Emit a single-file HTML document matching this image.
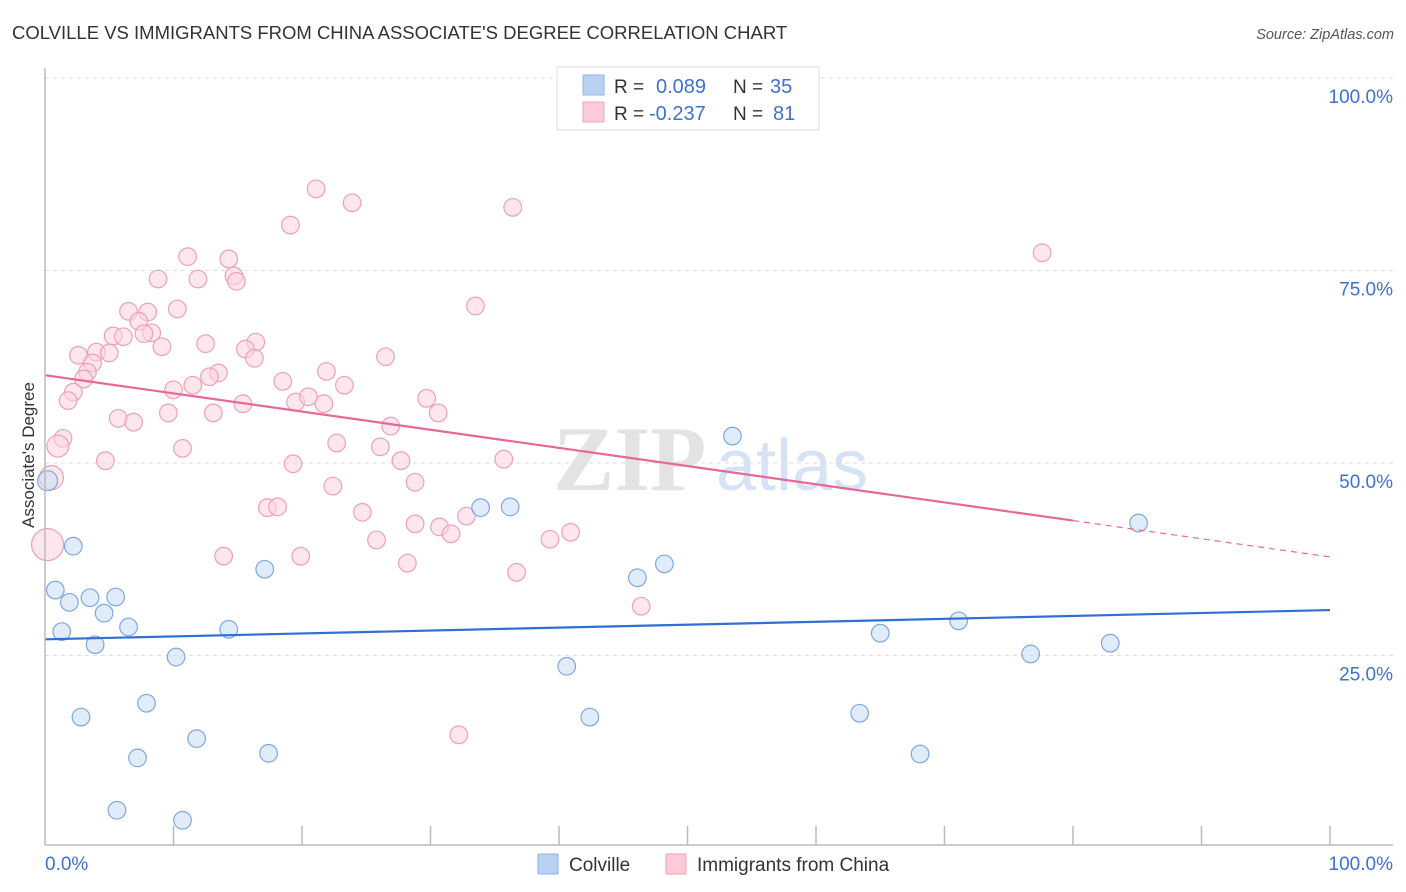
<!DOCTYPE html>
<html><head><meta charset="utf-8"><style>
body{margin:0;background:#fff;font-family:"Liberation Sans",sans-serif;}
svg{display:block}
</style></head><body>
<svg id="chart" width="1406" height="892">
<text x="12" y="39" font-size="18.5" fill="#333">COLVILLE VS IMMIGRANTS FROM CHINA ASSOCIATE'S DEGREE CORRELATION CHART</text>
<text x="1394" y="39" font-size="14.5" fill="#555" font-style="italic" text-anchor="end">Source: ZipAtlas.com</text>
<g id="grid"></g>
<text x="553" y="490" font-size="92" fill="#e3e3e3" font-family="Liberation Serif,serif" font-weight="bold">ZIP</text>
<text x="716" y="490" font-size="72" fill="#d5e3f5">atlas</text>
<g id="marks"></g>
<g id="axes"></g>
<g>
<rect x="557" y="67" width="262" height="63" fill="#fff" stroke="#ddd"/>
<rect x="583" y="75" width="21" height="20" fill="#b9d2f3" stroke="#8fb4e6"/>
<rect x="583" y="102" width="21" height="20" fill="#fbcbd8" stroke="#f0a3ba"/>
<text x="614" y="93" font-size="19" fill="#333">R =</text><text x="656" y="93" font-size="20" fill="#3d72d0">0.089</text>
<text x="733" y="93" font-size="19" fill="#333">N =</text><text x="770" y="93" font-size="20" fill="#3d72d0">35</text>
<text x="614" y="120" font-size="19" fill="#333">R =</text><text x="649" y="120" font-size="20" fill="#3d72d0">-0.237</text>
<text x="733" y="120" font-size="19" fill="#333">N =</text><text x="773" y="120" font-size="20" fill="#3d72d0">81</text>
</g>
<g>
<rect x="538" y="854" width="20" height="20" fill="#b9d2f3" stroke="#8fb4e6"/>
<text x="569" y="871" font-size="19" fill="#333">Colville</text>
<rect x="666" y="854" width="20" height="20" fill="#fbcbd8" stroke="#f0a3ba"/>
<text x="697" y="871" font-size="19" fill="#333">Immigrants from China</text>
</g>
<text transform="translate(34,455) rotate(-90)" font-size="17" fill="#333" text-anchor="middle">Associate's Degree</text>
</svg>
<script>
const yTicks=[25,50,75,100];
const yTickLabels=["25.0%","50.0%","75.0%","100.0%"];
const xTickLabels=["0.0%","100.0%"];
const blueX=[0.8,2.2,1.3,1.9,3.5,3.9,4.6,5.5,6.5,2.8,7.9,7.2,5.6,10.2,10.7,11.8,14.3,17.1,17.4,33.9,36.2,40.6,42.4,46.1,48.2,53.5,63.4,65.0,68.1,71.1,76.7,82.9,85.1];
const blueY=[33.5,39.2,28.1,31.9,32.5,26.4,30.5,32.6,28.7,17.0,18.8,11.7,4.9,24.8,3.6,14.2,28.4,36.2,12.3,44.2,44.3,23.6,17.0,35.1,36.9,53.5,17.5,27.9,12.2,29.5,25.2,26.6,42.2];
const pinkX=[21.1,23.9,36.4,19.1,77.6,11.1,14.3,8.8,11.9,14.7,14.9,33.5,6.5,8.0,10.3,7.3,5.3,6.1,8.3,7.7,9.1,12.5,16.4,15.6,2.6,4.0,5.0,16.3,3.7,26.5,3.3,3.0,13.5,12.8,21.9,18.5,23.3,10.0,11.5,2.2,1.8,19.5,20.5,21.7,15.4,29.7,9.6,13.1,5.7,6.9,30.6,26.9,1.4,10.7,22.7,26.1,4.7,19.3,27.7,35.7,28.8,22.4,17.3,18.1,24.7,28.8,30.7,31.6,32.8,25.8,39.3,40.9,13.9,19.9,28.2,36.7,46.4,32.2];
const pinkY=[85.6,83.8,83.2,80.9,77.3,76.8,76.5,73.9,73.9,74.3,73.6,70.4,69.7,69.6,70.0,68.4,66.5,66.4,66.9,66.8,65.1,65.5,65.7,64.8,64.0,64.4,64.3,63.6,63.0,63.8,61.8,60.9,61.7,61.2,61.9,60.6,60.1,59.5,60.1,59.2,58.1,57.9,58.6,57.7,57.7,58.4,56.5,56.5,55.8,55.3,56.5,54.8,53.2,51.9,52.6,52.1,50.3,49.9,50.3,50.5,47.5,47.0,44.2,44.3,43.6,42.1,41.7,40.8,43.1,40.0,40.1,41.0,37.9,37.9,37.0,35.8,31.4,14.7];
const bigBlueX=[0.2],bigBlueY=[47.7],bigBlueR=[10];
const bigPinkX=[0.2,0.5,1.0],bigPinkY=[39.4,48.1,52.2],bigPinkR=[16,12,11];
const blueTrend=[27.1,30.9];
const pinkTrend=[61.4,37.8];
const pinkSolidEnd=80;
const NS="http://www.w3.org/2000/svg";
const X0=45,X1=1330,Y0=848,Y100=78;
const sx=v=>X0+(X1-X0)*v/100;
const sy=v=>Y0+(Y100-Y0)*v/100;
function mk(t,a,p){const e=document.createElementNS(NS,t);for(const k in a)e.setAttribute(k,a[k]);p.appendChild(e);return e;}
const grid=document.getElementById('grid'),marks=document.getElementById('marks'),axes=document.getElementById('axes');
yTicks.forEach((t,i)=>{
 const l=mk('line',{x1:X0,x2:1393,y1:sy(t),y2:sy(t),stroke:'#ddd','stroke-dasharray':'4,4'},grid);
 
 
 const tx=mk('text',{x:1393,y:sy(t)+25,'font-size':19,fill:'#3d72d0','text-anchor':'end'},axes);
 tx.textContent=yTickLabels[i];
 
 
});
mk('line',{x1:X0,x2:X0,y1:68,y2:845,stroke:'#bbb','stroke-width':1.5},axes);
mk('line',{x1:X0,x2:1393,y1:845,y2:845,stroke:'#bbb','stroke-width':1.5},axes);
for(let k=1;k<=10;k++){const x=sx(k*10);mk('line',{x1:x,x2:x,y1:826,y2:845,stroke:'#bbb','stroke-width':1.5},axes);}
const xl0=mk('text',{x:45,y:870,'font-size':19,fill:'#3d72d0'},axes);xl0.textContent=xTickLabels[0];


const xl1=mk('text',{x:1393,y:870,'font-size':19,fill:'#3d72d0','text-anchor':'end'},axes);xl1.textContent=xTickLabels[1];


function dot(x,y,r,fill,stroke,name){const c=mk('circle',{cx:sx(x),cy:sy(y),r:r,fill:fill,stroke:stroke,'stroke-width':1.2,'fill-opacity':0.55},marks);
 
 }
pinkX.forEach((x,i)=>dot(x,pinkY[i],8.8,'#fbd3de','#eea0b7','china-point'));
bigPinkX.forEach((x,i)=>dot(x,bigPinkY[i],bigPinkR[i],'#fbd3de','#eea0b7','china-point'));
blueX.forEach((x,i)=>dot(x,blueY[i],8.8,'#c9dcf5','#7ea8e2','colville-point'));
bigBlueX.forEach((x,i)=>dot(x,bigBlueY[i],bigBlueR[i],'#c9dcf5','#7ea8e2','colville-point'));
const bt=mk('line',{x1:sx(0),y1:sy(blueTrend[0]),x2:sx(100),y2:sy(blueTrend[1]),stroke:'#2f6fd6','stroke-width':2.2},marks);


const pm=pinkTrend[0]+(pinkTrend[1]-pinkTrend[0])*pinkSolidEnd/100;
const pt=mk('line',{x1:sx(0),y1:sy(pinkTrend[0]),x2:sx(pinkSolidEnd),y2:sy(pm),stroke:'#e8679a','stroke-width':2.2},marks);


const pd=mk('line',{x1:sx(pinkSolidEnd),y1:sy(pm),x2:sx(100),y2:sy(pinkTrend[1]),stroke:'#e8679a','stroke-width':1.2,'stroke-dasharray':'6,5'},marks);


</script>
</body></html>
